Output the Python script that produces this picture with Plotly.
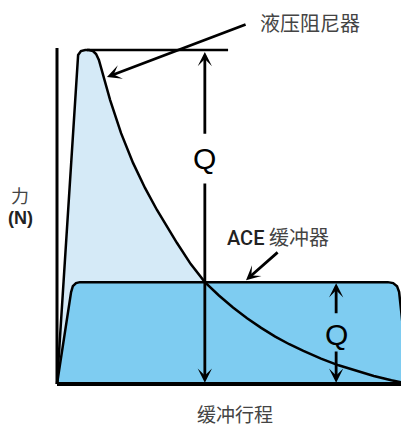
import plotly.graph_objects as go

# 液压阻尼器 force curve (stroke %, force %)
hyd_stroke = [0, 5.7, 6.0, 6.8, 8.0, 9.1, 10.2, 11.1, 11.9, 15.1, 18.2, 21.6, 25.0,
              28.4, 34.1, 38.0, 42.0, 46.0, 50.0, 54.0, 58.0, 62.0, 66.0, 70.0,
              75.0, 80.0, 85.0, 90.0, 95.0, 100]
hyd_force = [0, 97.0, 98.5, 99.7, 100, 100, 99.7, 98.8, 97.0, 85.0, 75.1, 66.2, 58.7,
             52.1, 42.2, 35.9, 30.5, 26.5, 22.9, 19.7, 16.8, 14.2, 11.9, 9.9,
             7.6, 5.6, 3.9, 2.4, 1.1, 0]

# ACE 缓冲器 force curve
ace_stroke = [0, 4.0, 4.5, 5.4, 6.5, 94.0, 95.5, 96.6, 97.2, 100]
ace_force = [0, 27.5, 29.3, 30.2, 30.5, 30.5, 30.2, 29.3, 27.5, 0]

q1_x = 42.0   # stroke where both curves meet
q2_x = 79.3

LIGHT = "rgb(213,234,247)"
MID = "rgb(126,204,241)"

# page body has an 8px margin, so positions are given in screen px and shifted
OFF = 8
W, H = 409, 427


def px(x):
    return (x - OFF) / W


def py(y):
    return 1 - (y - OFF) / H


fig = go.Figure()
fig.add_trace(go.Scatter(x=hyd_stroke, y=hyd_force, fill="toself", fillcolor=LIGHT,
                         mode="lines", line=dict(width=0), hoverinfo="skip"))
fig.add_trace(go.Scatter(x=ace_stroke, y=ace_force, fill="toself", fillcolor=MID,
                         mode="lines", line=dict(color="black", width=2.5), hoverinfo="skip"))
fig.add_trace(go.Scatter(x=hyd_stroke, y=hyd_force, mode="lines",
                         line=dict(color="black", width=2.5), hoverinfo="skip"))

peak = max(hyd_force)
ace_level = max(ace_force)

# axes + peak line
fig.add_shape(type="line", x0=0, y0=0, x1=0, y1=100.6, line=dict(color="black", width=3))
fig.add_shape(type="line", x0=0, y0=0, x1=102, y1=0, line=dict(color="black", width=4))
fig.add_shape(type="line", x0=8.5, y0=peak, x1=48.6, y1=peak, line=dict(color="black", width=2.5))

arrow = dict(xref="x", yref="y", axref="x", ayref="y", showarrow=True, text="",
             arrowhead=3, arrowsize=0.85, arrowwidth=2.8, arrowcolor="black", standoff=0)
ann = [
    dict(x=q1_x, y=peak - 0.6, ax=q1_x, ay=74.5, **arrow),
    dict(x=q1_x, y=0.4, ax=q1_x, ay=60.5, **arrow),
    dict(x=q2_x, y=ace_level - 0.3, ax=q2_x, ay=20.7, **arrow),
    dict(x=q2_x, y=0.4, ax=q2_x, ay=10.2, **arrow),
    dict(x=14.2, y=91.9, ax=54.0, ay=107.8, **arrow),
    dict(x=53.7, y=31.1, ax=63.1, ay=39.8, **arrow),
]
qfont = dict(family="Liberation Sans", size=30, color="black")
ann += [
    dict(x=q1_x, y=67.5, text="Q", showarrow=False, font=qfont),
    dict(x=q2_x, y=14.7, text="Q", showarrow=False, font=qfont),
]
cjk = "Noto Sans CJK SC"
ptxt = dict(xref="paper", yref="paper", showarrow=False, xanchor="center", yanchor="middle")
ann += [
    dict(x=px(310), y=py(22), text="液压阻尼器",
         font=dict(family=cjk, size=20, color="#444"), **ptxt),
    dict(x=px(278), y=py(236),
         text='<span style="font-family:Roboto;font-weight:500;color:#222">ACE</span> 缓冲器',
         font=dict(family=cjk, size=20, color="#444"), **ptxt),
    dict(x=px(20), y=py(195), text="力",
         font=dict(family=cjk, size=18, color="#444"), **ptxt),
    dict(x=px(20), y=py(218), text="<b>(N)</b>",
         font=dict(family="Liberation Sans", size=18, color="#222"), **ptxt),
    dict(x=px(235), y=py(413), text="缓冲行程",
         font=dict(family=cjk, size=19, color="#444"), **ptxt),
]

fig.update_layout(
    width=W, height=H, margin=dict(l=0, r=0, t=0, b=0),
    paper_bgcolor="white", plot_bgcolor="white", showlegend=False,
    xaxis=dict(range=[(OFF - 57) / 3.52, (W + OFF - 57) / 3.52], visible=False, fixedrange=True),
    yaxis=dict(range=[(384 - H - OFF) / 3.34, (384 - OFF) / 3.34], visible=False, fixedrange=True),
    annotations=ann,
)
fig.write_html("out.html")
